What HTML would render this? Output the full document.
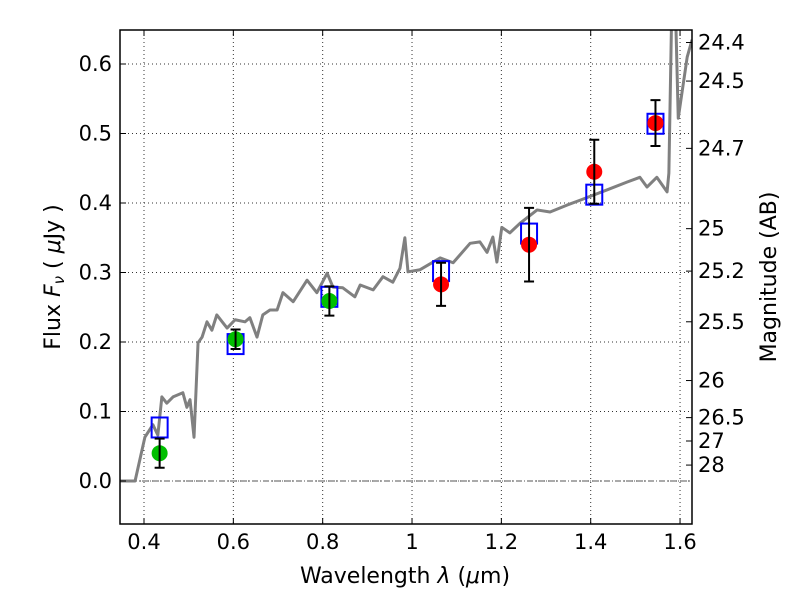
<!DOCTYPE html>
<html><head><meta charset="utf-8"><style>
body{margin:0;background:#fff;}
svg text{font-family:"DejaVu Sans","Liberation Sans",sans-serif;}
</style></head><body>
<svg id="chart" width="800" height="600" xmlns="http://www.w3.org/2000/svg">
<defs><clipPath id="clip"><rect x="120" y="30" width="572" height="494"/></clipPath></defs>
<rect width="800" height="600" fill="#fff"/>
<g id="grid"></g>
<g id="plot" clip-path="url(#clip)"></g>
<g id="axes"></g>
<text x="405" y="583" font-size="22" text-anchor="middle">Wavelength  <tspan font-style="italic">λ</tspan> (<tspan font-style="italic">μ</tspan>m)</text>
<text transform="translate(60,277) rotate(-90)" font-size="22" text-anchor="middle">Flux  <tspan font-style="italic">F</tspan><tspan font-style="italic" font-size="15" dy="4">ν</tspan><tspan dy="-4">  ( </tspan><tspan font-style="italic">μ</tspan>Jy )</text>
<text transform="translate(776,277) rotate(-90)" font-size="22" text-anchor="middle">Magnitude (AB)</text>
</svg>
<script>
const specX=[0.346,0.380,0.402,0.420,0.431,0.440,0.451,0.465,0.487,0.496,0.503,0.512,0.521,0.530,0.541,0.552,0.563,0.575,0.586,0.604,0.626,0.637,0.653,0.666,0.682,0.698,0.711,0.734,0.765,0.787,0.810,0.823,0.845,0.872,0.884,0.913,0.935,0.957,0.973,0.984,0.991,1.018,1.063,1.092,1.130,1.152,1.168,1.181,1.190,1.201,1.219,1.242,1.280,1.309,1.347,1.376,1.437,1.481,1.510,1.526,1.548,1.571,1.575,1.582,1.589,1.596,1.616,1.627];
const specY=[0,0,0.063,0.081,0.066,0.121,0.112,0.121,0.127,0.106,0.117,0.063,0.199,0.207,0.229,0.217,0.239,0.229,0.220,0.232,0.229,0.235,0.207,0.239,0.246,0.246,0.271,0.258,0.289,0.271,0.299,0.279,0.278,0.265,0.282,0.275,0.294,0.286,0.306,0.350,0.301,0.304,0.321,0.314,0.342,0.344,0.329,0.351,0.315,0.365,0.357,0.371,0.390,0.387,0.397,0.404,0.419,0.430,0.437,0.423,0.437,0.416,0.443,0.70,0.70,0.522,0.61,0.635];
const modelX=[0.435,0.605,0.815,1.065,1.262,1.408,1.545];
const modelY=[0.077,0.197,0.265,0.302,0.356,0.412,0.514];
const greenX=[0.435,0.605,0.815];
const greenY=[0.040,0.204,0.259];
const greenErr=[0.021,0.014,0.021];
const redX=[1.065,1.262,1.408,1.545];
const redY=[0.283,0.340,0.445,0.515];
const redErr=[0.031,0.053,0.046,0.033];
const xTicks=[0.4,0.6,0.8,1.0,1.2,1.4,1.6];
const xTickLabels=["0.4","0.6","0.8","1","1.2","1.4","1.6"];
const yTicks=[0,0.1,0.2,0.3,0.4,0.5,0.6];
const yTickLabels=["0.0","0.1","0.2","0.3","0.4","0.5","0.6"];
const magTicks=[24.4,24.5,24.7,25,25.2,25.5,26,26.5,27,28];
const magLabels=["24.4","24.5","24.7","25","25.2","25.5","26","26.5","27","28"];

const X0=120,X1=692,Y0=30,Y1=524;
const xs=v=>144+(v-0.4)*446.7;
const ys=v=>481-v*695;
const NS="http://www.w3.org/2000/svg";
function mk(tag,attrs,parent){const e=document.createElementNS(NS,tag);for(const k in attrs)e.setAttribute(k,attrs[k]);parent.appendChild(e);return e;}
const grid=document.getElementById('grid'),plot=document.getElementById('plot'),axes=document.getElementById('axes');

xTicks.forEach((t,i)=>{
  const x=xs(t);
  const g=mk('line',{x1:x,x2:x,y1:Y0,y2:Y1,stroke:'#333','stroke-width':1,'stroke-dasharray':'1,3'},grid);
  
  
  mk('line',{x1:x,x2:x,y1:Y1,y2:Y1-6,stroke:'#000'},axes);
  mk('line',{x1:x,x2:x,y1:Y0,y2:Y0+6,stroke:'#000'},axes);
  const tx=mk('text',{x:x,y:Y1+25,'font-size':21,'text-anchor':'middle'},axes);
  tx.textContent=xTickLabels[i];
  
  
});
yTicks.forEach((t,i)=>{
  const y=ys(t);
  const g=mk('line',{x1:X0,x2:X1,y1:y,y2:y,stroke:'#333','stroke-width':1,'stroke-dasharray':'1,3'},grid);
  
  
  mk('line',{x1:X0,x2:X0+6,y1:y,y2:y,stroke:'#000'},axes);
  const tx=mk('text',{x:X0-8,y:y+7,'font-size':21,'text-anchor':'end'},axes);
  tx.textContent=yTickLabels[i];
  
  
});
const zl=mk('line',{x1:X0,x2:X1,y1:ys(0),y2:ys(0),stroke:'#555','stroke-width':1,'stroke-dasharray':'6,2,1,2'},plot);



magTicks.forEach((m,i)=>{
  const f=Math.pow(10,(23.9-m)/2.5);
  const y=ys(f);
  mk('line',{x1:X1,x2:X1-6,y1:y,y2:y,stroke:'#000'},axes);
  const tx=mk('text',{x:X1+6,y:y+7,'font-size':21},axes);
  tx.textContent=magLabels[i];
  
  
});

const sp=mk('polyline',{points:specX.map((v,i)=>xs(v)+','+ys(specY[i])).join(' '),fill:'none',stroke:'#808080','stroke-width':3,'stroke-linejoin':'round'},plot);



modelX.forEach((v,i)=>{
  const r=mk('rect',{x:xs(v)-8,y:ys(modelY[i])-10,width:16,height:20,fill:'none',stroke:'#0000ff','stroke-width':2},plot);
  
  
});
function pts(X,Y,E,color,name){
  X.forEach((v,i)=>{
    const cx=xs(v);
    const c=mk('circle',{cx:cx,cy:ys(Y[i]),r:8,fill:color},plot);
    
    
    const t=ys(Y[i]+E[i]),b=ys(Y[i]-E[i]);
    const e=mk('path',{d:`M${cx},${t}V${b}M${cx-5},${t}H${cx+5}M${cx-5},${b}H${cx+5}`,stroke:'#000','stroke-width':2,fill:'none'},plot);
    
    
  });
}
pts(greenX,greenY,greenErr,'#00bf00','observed-point-green');
pts(redX,redY,redErr,'#ff0000','observed-point-red');

const fr=mk('rect',{x:X0,y:Y0,width:X1-X0,height:Y1-Y0,fill:'none',stroke:'#000','stroke-width':1.5},axes);


</script>
</body></html>
